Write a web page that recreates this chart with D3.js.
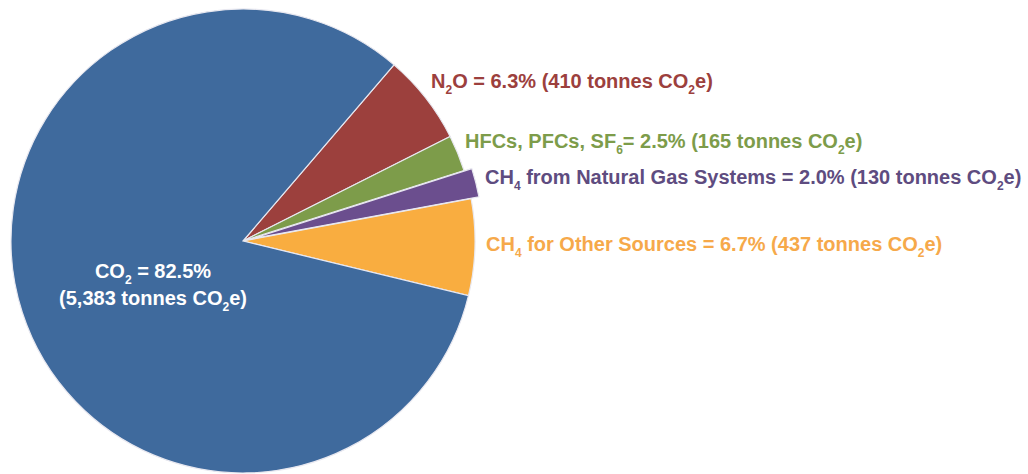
<!DOCTYPE html>
<html><head><meta charset="utf-8">
<script src="https://cdn.jsdelivr.net/npm/d3@7"></script>
<style>body{margin:0;background:#fff;}svg{display:block;}</style>
</head><body>
<svg id="chart" width="1028" height="474"></svg>
<script>
// Data
const categories = ["N2O", "HFCs, PFCs, SF6", "CH4 from Natural Gas Systems", "CH4 for Other Sources", "CO2"];
const tonnes = [410, 165, 130, 437, 5383];
const percents = [6.3, 2.5, 2.0, 6.7, 82.5];
// label pieces: [text, isSubscript]
const labelParts = [
  [["N",0],["2",1],["O = 6.3% (410 tonnes CO",0],["2",1],["e)",0]],
  [["HFCs, PFCs, SF",0],["6",1],["= 2.5% (165 tonnes CO",0],["2",1],["e)",0]],
  [["CH",0],["4",1],[" from Natural Gas Systems = 2.0% (130 tonnes CO",0],["2",1],["e)",0]],
  [["CH",0],["4",1],[" for Other Sources = 6.7% (437 tonnes CO",0],["2",1],["e)",0]],
  null
];
const co2Lines = [
  [["CO",0],["2",1],[" = 82.5%",0]],
  [["(5,383 tonnes CO",0],["2",1],["e)",0]]
];

// Layout / styles
const fills = ["#9C403D", "#7D9C4A", "#6B4E8E", "#F9AD40", "#3F6A9D"];
const textFills = ["#9C403D", "#7D9C4A", "#5E4C80", "#F6A94A", "#ffffff"];
const cx = 243, cy = 241, R = 232;
const explode = [0, 0, 8, 0, 0];
const labelPos = [[431, 88], [465, 148], [485, 184], [486, 251]];
const co2Pos = [[153, 278], [153, 305]];

const svg = d3.select("#chart");
const g = svg.append("g").attr("transform", `translate(${cx},${cy})`);
const start = 40.6 * Math.PI / 180;
const pie = d3.pie().sort(null).value(d => d).startAngle(start).endAngle(start + 2 * Math.PI);
const arcs = pie(tonnes);
const arc = d3.arc().innerRadius(0).outerRadius(R);

g.selectAll("path").data(arcs).join("path")
  .attr("d", arc)
  .attr("fill", (d, i) => fills[i])
  .attr("stroke", "#e8e8f0")
  .attr("stroke-width", 1.2)
  .attr("transform", (d, i) => {
    const m = (d.startAngle + d.endAngle) / 2;
    return `translate(${explode[i] * Math.sin(m)},${-explode[i] * Math.cos(m)})`;
  });

function addParts(t, parts, size) {
  parts.forEach((p, i) => {
    const ts = t.append("tspan").text(p[0]);
    if (p[1]) ts.attr("font-size", size * 0.6).attr("dy", size * 0.3);
    else if (i > 0 && parts[i - 1][1]) ts.attr("dy", -size * 0.3);
  });
}

const fs = 20;
const family = "Liberation Sans, Arial, sans-serif";
labelParts.forEach((parts, i) => {
  if (!parts) return;
  const t = svg.append("text")
    .attr("x", labelPos[i][0]).attr("y", labelPos[i][1])
    .attr("font-family", family)
    .attr("font-weight", "bold").attr("font-size", fs)
    .attr("fill", textFills[i]);
  addParts(t, parts, fs);
});

co2Lines.forEach((parts, j) => {
  const t = svg.append("text")
    .attr("x", co2Pos[j][0]).attr("y", co2Pos[j][1])
    .attr("text-anchor", "middle")
    .attr("font-family", family)
    .attr("font-weight", "bold").attr("font-size", fs)
    .attr("fill", textFills[4]);
  addParts(t, parts, fs);
});
</script>
</body></html>
